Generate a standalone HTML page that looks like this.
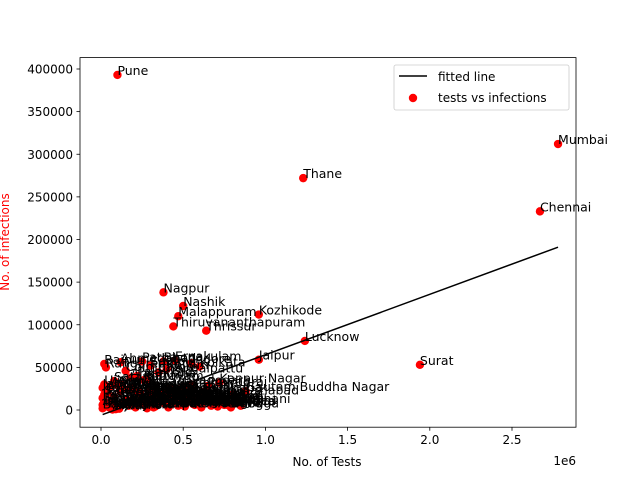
<!DOCTYPE html>
<html><head><meta charset="utf-8"><style>
body{margin:0;background:#fff;}
svg{font-family:"DejaVu Sans","Liberation Sans",sans-serif;}
</style></head><body>
<svg id="chart" width="640" height="480" viewBox="0 0 640 480">
<rect x="0" y="0" width="640" height="480" fill="#fff"/>
<g id="plot"></g>
<rect x="80" y="57.6" width="496" height="369.6" fill="none" stroke="#000" stroke-width="0.8"/>
<g id="axes"></g>
<text x="327" y="466" font-size="12" text-anchor="middle">No. of Tests</text>
<text x="576" y="465" font-size="12" text-anchor="end">1e6</text>
<text transform="translate(9,242) rotate(-90)" font-size="12" text-anchor="middle" fill="red">No. of infections</text>
<g>
<rect x="394" y="65" width="175" height="45" rx="2" fill="#fff" fill-opacity="0.8" stroke="#ccc" stroke-width="0.8"/>
<line x1="399" y1="76" x2="427" y2="76" stroke="#000" stroke-width="1.5"/>
<text x="438" y="81" font-size="12">fitted line</text>
<circle cx="413" cy="98" r="4.2" fill="red"/>
<text x="438" y="102" font-size="12">tests vs infections</text>
</g>
</svg>
<script>
const names=["Pune","Mumbai","Thane","Chennai","Nagpur","Nashik","Malappuram","Kozhikode","Thiruvananthapuram","Thrissur","Lucknow","Surat","Jaipur",
"Raipur","Rangareddy","Ahmedabad","Patna","Ernakulam","Solapur","Bhopal","Indore","Kolkata","Coimbatore","Kollam","Chengalpattu","Gautam Buddha Nagar","Kanpur Nagar","Vadodara","Prayagraj","Jodhpur","Agra","Varanasi","Ghaziabad","Meerut","Gorakhpur","Howrah","Palakkad","Kannur","Alappuzha","Kottayam","Satara","Sangli","Kolhapur","Ahmednagar","Jalgaon","Aurangabad","Amravati","Madurai","Salem","Tiruvallur","Kancheepuram","Vellore","Nellore","Guntur","Krishna","Chittoor","Kurnool","Mysuru","Tumakuru","Ballari","Dehradun","Haridwar","Ludhiana","Amritsar","Gurugram","Faridabad","Udaipur","Kota","Bikaner","Ajmer","Alwar",
"Bareilly","Aligarh","Moradabad","Jhansi","Saharanpur","Gwalior","Jabalpur","Ujjain","Rajkot","Bhavnagar","Jamnagar","Ranchi","Dhanbad","Cuttack","Khordha","Ganjam","Visakhapatnam","Anantapur","Kadapa","Prakasam","Tirunelveli","Thoothukudi","Erode","Tiruppur","Dindigul","Belagavi","Kalaburagi","Dharwad","Mangaluru","Udupi","Shivamogga","Hassan","Mandya","Bidar","Raichur","Latur","Nanded","Beed","Parbhani","Akola","Buldhana","Yavatmal","Wardha","Chandrapur","Bhandara","Gondia","Osmanabad","Ratnagiri","Sindhudurg","Raigad","Palghar","Jalna","Hingoli","Washim"];
const tests=[0.10,2.78,1.23,2.67,0.38,0.50,0.47,0.96,0.44,0.64,1.24,1.94,0.96,
0.02,0.03,0.12,0.25,0.45,0.30,0.38,0.55,0.60,0.15,0.40,0.35,0.88,0.72,0.55,0.65,0.50,0.42,0.48,0.80,0.33,0.58,0.70,0.22,0.28,0.18,0.26,0.08,0.12,0.20,0.10,0.16,0.24,0.06,0.45,0.36,0.30,0.26,0.34,0.52,0.60,0.75,0.66,0.70,0.40,0.14,0.05,0.02,0.04,0.22,0.18,0.56,0.46,0.32,0.28,0.11,0.09,0.07,
0.01,0.01,0.02,0.01,0.02,0.03,0.01,0.02,0.05,0.07,0.09,0.13,0.17,0.19,0.21,0.23,0.27,0.29,0.31,0.33,0.37,0.39,0.41,0.43,0.47,0.49,0.51,0.53,0.57,0.59,0.61,0.63,0.67,0.69,0.71,0.73,0.77,0.79,0.82,0.85,0.62,0.54,0.44,0.35,0.25,0.15,0.08,0.04,0.12,0.20,0.30,0.40,0.50,0.60,0.68];
const infections=[393000,312000,272000,233000,138000,122000,110000,112000,98000,93000,81000,53000,59000,
54000,50000,56000,57000,58000,52000,57000,55000,51000,46000,48000,44000,22000,32000,30000,28000,27000,25000,24000,18000,20000,14000,10000,40000,36000,38000,35000,34000,30000,26000,29000,24000,20000,28000,16000,18000,14000,12000,8000,15000,6000,6000,12000,11000,16000,10000,8000,5000,4000,22000,9000,7000,12000,3000,2000,1500,1000,500,
2000,6000,10000,14000,18000,22000,26000,30000,3000,9000,4000,7000,5000,12000,3000,8000,5000,10000,6000,4000,9000,7000,3000,11000,5000,8000,4000,13000,6000,9000,3000,10000,5000,7000,4000,9000,6000,3000,8000,5000,21000,19000,17000,15000,13000,11000,15000,20000,22000,24000,23000,21000,19000,17000,16000];
const xTicks=[0,0.5,1.0,1.5,2.0,2.5];
const xTickLabels=["0.0","0.5","1.0","1.5","2.0","2.5"];
const yTicks=[0,50000,100000,150000,200000,250000,300000,350000,400000];
const slope=0.0709, intercept=-6100;
const xs=v=>101+v*164.4;
const ys=v=>410-v/100000*85.25;
const NS="http://www.w3.org/2000/svg";
const plot=document.getElementById('plot');
const axes=document.getElementById('axes');
function mk(tag,attrs,parent){const e=document.createElementNS(NS,tag);for(const k in attrs)e.setAttribute(k,attrs[k]);parent.appendChild(e);return e;}
let mn=Math.min(...tests),mx=Math.max(...tests);
const fl=mk('line',{x1:xs(mn),y1:ys(intercept+slope*mn*1e6),x2:xs(mx),y2:ys(intercept+slope*mx*1e6),stroke:'#000','stroke-width':1.5},plot);


for(let i=names.length-1;i>=0;i--){
 const c=mk('circle',{cx:xs(tests[i]),cy:ys(infections[i]),r:4.2,fill:'red'},plot);
 
 
}
plot.appendChild(fl);
for(let i=0;i<names.length;i++){
 const t=mk('text',{x:xs(tests[i]),y:ys(infections[i]),'font-size':12.5},plot);
 t.textContent=names[i];
 
 
}
xTicks.forEach((v,i)=>{
 const l=mk('line',{x1:xs(v),x2:xs(v),y1:427.2,y2:430.7,stroke:'#000','stroke-width':0.8},axes);
 
 
 const t=mk('text',{x:xs(v),y:444,'font-size':12,'text-anchor':'middle'},axes);
 t.textContent=xTickLabels[i];
 
 
});
yTicks.forEach(v=>{
 const l=mk('line',{x1:76.5,x2:80,y1:ys(v),y2:ys(v),stroke:'#000','stroke-width':0.8},axes);
 
 
 const t=mk('text',{x:73,y:ys(v)+4.5,'font-size':12,'text-anchor':'end'},axes);
 t.textContent=String(v);
 
 
});
</script>
</body></html>
